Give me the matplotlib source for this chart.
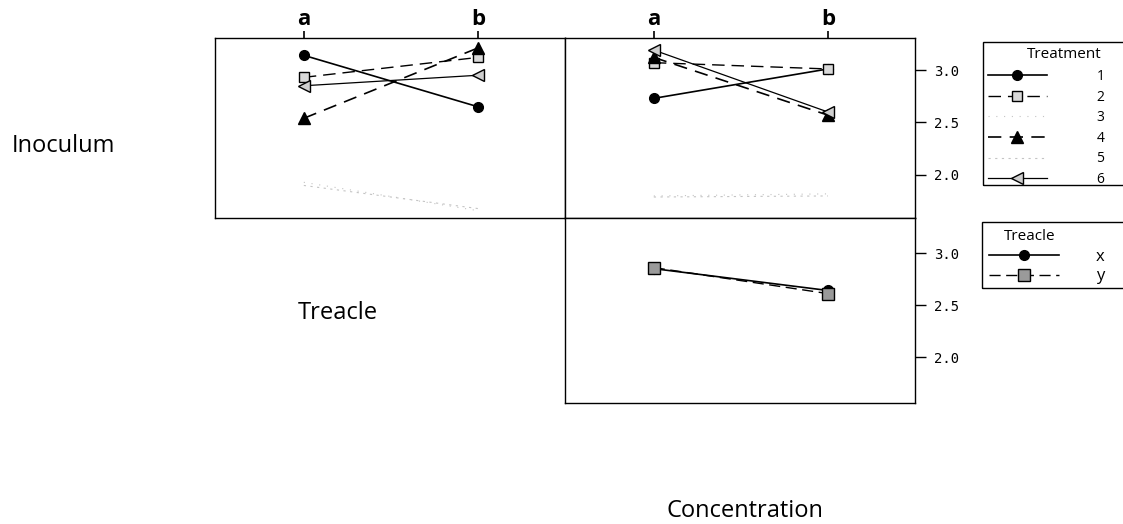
import matplotlib
matplotlib.use("Agg")
import matplotlib.pyplot as plt
from matplotlib.lines import Line2D
from matplotlib.patches import Rectangle

W, H = 1123, 524

# ---- data ----
levels = ["a", "b"]
treatments = ["1", "2", "3", "4", "5", "6"]
# Inoculum panel (top-left), value at a, b per treatment
inoc_vals = {
    "1": [3.14, 2.65],
    "2": [2.93, 3.12],
    "3": [1.93, 1.66],
    "4": [2.54, 3.21],
    "5": [1.90, 1.68],
    "6": [2.85, 2.95],
}
# Concentration panel (top-right)
conc_vals = {
    "1": [2.73, 3.01],
    "2": [3.07, 3.01],
    "3": [1.80, 1.82],
    "4": [3.12, 2.57],
    "5": [1.79, 1.80],
    "6": [3.19, 2.60],
}
treacle_levels = ["x", "y"]
treacle_vals = {
    "x": [2.85, 2.64],
    "y": [2.86, 2.61],
}
yticks = [2.0, 2.5, 3.0]

# ---- styles ----
tstyle = {
    "1": dict(color="black", ls="-", lw=1.2, marker="o", ms=7, mfc="black", mec="black"),
    "2": dict(color="black", ls=(0, (9, 5)), lw=1.0, marker="s", ms=7, mfc="#d9d9d9", mec="black"),
    "3": dict(color="#c4c4c4", ls=(0, (1, 6)), lw=0.8, marker="None"),
    "4": dict(color="black", ls=(0, (8, 5)), lw=1.2, marker="^", ms=9, mfc="black", mec="black"),
    "5": dict(color="#c4c4c4", ls=(0, (2, 4)), lw=0.8, marker="None"),
    "6": dict(color="black", ls="-", lw=0.9, marker="<", ms=9, mfc="#cfcfcf", mec="black"),
}
trstyle = {
    "x": dict(color="black", ls="-", lw=1.2, marker="o", ms=7, mfc="black", mec="black"),
    "y": dict(color="black", ls=(0, (8, 4)), lw=1.0, marker="s", ms=8, mfc="#9a9a9a", mec="black"),
}

fig = plt.figure(figsize=(W / 100, H / 100), dpi=100)

def px_axes(x0, y0, x1, y1):
    return fig.add_axes([x0 / W, 1 - y1 / H, (x1 - x0) / W, (y1 - y0) / H])

ax_tl = px_axes(215, 38, 565, 218)
ax_tr = px_axes(565, 38, 915, 218)
ax_br = px_axes(565, 218, 915, 403)

xpos = list(range(len(levels)))
for ax in (ax_tl, ax_tr, ax_br):
    ax.set_xlim(-0.51, 1.5)
    for s in ax.spines.values():
        s.set_linewidth(1.0)

ax_tl.set_ylim(1.59, 3.305)
ax_tr.set_ylim(1.59, 3.305)
ax_br.set_ylim(1.558, 3.337)

for t in treatments:
    ax_tl.plot(xpos, inoc_vals[t], **tstyle[t])
    ax_tr.plot(xpos, conc_vals[t], **tstyle[t])
for k in treacle_levels:
    ax_br.plot(xpos, treacle_vals[k], **trstyle[k])

# top x ticks
for ax in (ax_tl, ax_tr):
    ax.xaxis.tick_top()
    ax.set_xticks(xpos)
    ax.set_xticklabels(levels, fontfamily="Open Sans", fontweight="bold", fontsize=16)
    ax.tick_params(axis="x", direction="out", length=5, width=1.2, pad=1)
ax_br.set_xticks([])

# y ticks on right
ax_tl.set_yticks([])
for ax in (ax_tr, ax_br):
    ax.yaxis.tick_right()
    ax.set_yticks(yticks)
    ax.set_yticklabels([f"{v:.1f}" for v in yticks], fontfamily="DejaVu Sans Mono", fontsize=10)
    ax.tick_params(axis="y", direction="out", length=8, width=1.0, pad=6)

# row / column labels
lab = dict(fontfamily="Open Sans", fontsize=17, ha="left", va="baseline")
fig.text(12 / W, 1 - 152 / H, "Inoculum", **lab)
fig.text(298 / W, 1 - 319 / H, "Treacle", **lab)
fig.text(667 / W, 1 - 517 / H, "Concentration", **lab)

# legend frames
fig.add_artist(Rectangle((983 / W, 1 - 185 / H), 200 / W, 143 / H, transform=fig.transFigure,
                         fill=False, lw=1.0, ec="black"))
fig.add_artist(Rectangle((982 / W, 1 - 288 / H), 200 / W, 66 / H, transform=fig.transFigure,
                         fill=False, lw=1.0, ec="black"))
fig.text(1064 / W, 1 - 58 / H, "Treatment", fontfamily="Open Sans", fontsize=11, ha="center", va="baseline")
fig.text(1030 / W, 1 - 240 / H, "Treacle", fontfamily="Open Sans", fontsize=11, ha="center", va="baseline")

h1 = [Line2D([], [], **tstyle[t]) for t in treatments]
leg1 = fig.legend(h1, treatments, loc="upper left", bbox_to_anchor=(984 / W, 1 - 65 / H),
                  frameon=False, prop=dict(family="Open Sans", size=10), handlelength=4.2,
                  handletextpad=3.6, labelspacing=0.40, borderpad=0.3, borderaxespad=0, numpoints=1)
h2 = [Line2D([], [], **trstyle[k]) for k in treacle_levels]
leg2 = fig.legend(h2, treacle_levels, loc="upper left", bbox_to_anchor=(984 / W, 1 - 244 / H),
                  frameon=False, prop=dict(family="Open Sans", size=12), handlelength=4.2,
                  handletextpad=2.2, labelspacing=0.2, borderpad=0.3, borderaxespad=0, numpoints=1)

fig.savefig("out.png", dpi=100)
